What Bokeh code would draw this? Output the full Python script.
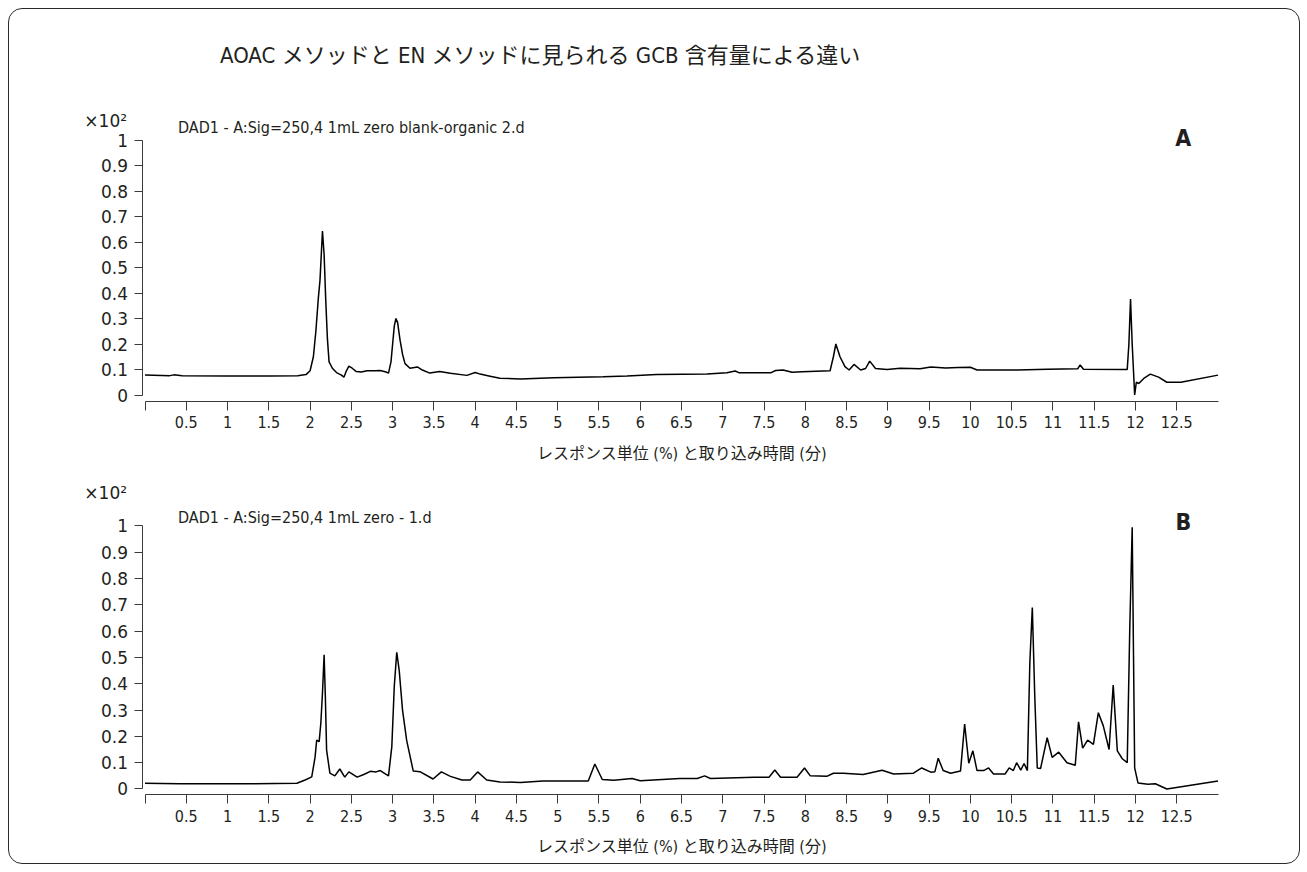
from bokeh.plotting import figure
from bokeh.layouts import column
from bokeh.models import Label, FixedTicker, Range1d, LinearAxis
from bokeh.embed import file_html
from bokeh.resources import INLINE

# ---------------- data ----------------
title_text = "AOAC メソッドと EN メソッドに見られる GCB 含有量による違い"
x_axis_title = "レスポンス単位 (%) と取り込み時間 (分)"
label_a = "DAD1 - A:Sig=250,4 1mL zero blank-organic 2.d"
label_b = "DAD1 - A:Sig=250,4 1mL zero - 1.d"
panel_tags = ["A", "B"]
y_scale_text = "×10²"

x_ticks = [0, 0.5, 1, 1.5, 2, 2.5, 3, 3.5, 4, 4.5, 5, 5.5, 6, 6.5, 7, 7.5, 8,
           8.5, 9, 9.5, 10, 10.5, 11, 11.5, 12, 12.5]
x_tick_labels = ["", "0.5", "1", "1.5", "2", "2.5", "3", "3.5", "4", "4.5", "5",
                 "5.5", "6", "6.5", "7", "7.5", "8", "8.5", "9", "9.5", "10",
                 "10.5", "11", "11.5", "12", "12.5"]
y_ticks = [0, 0.1, 0.2, 0.3, 0.4, 0.5, 0.6, 0.7, 0.8, 0.9, 1]
y_tick_labels = ["0", "0.1", "0.2", "0.3", "0.4", "0.5", "0.6", "0.7", "0.8", "0.9", "1"]

# Panel A chromatogram (time min, response x10^2)
time_a = [0.00, 0.30, 0.35, 0.45, 1.00, 1.50, 1.85, 1.95, 2.00, 2.04, 2.07, 2.10,
          2.12, 2.15, 2.17, 2.19, 2.21, 2.23, 2.27, 2.32, 2.38, 2.41, 2.44, 2.47,
          2.51, 2.56, 2.62, 2.69, 2.78, 2.85, 2.92, 2.95, 2.98, 3.00, 3.02, 3.04,
          3.06, 3.09, 3.12, 3.15, 3.21, 3.30, 3.36, 3.45, 3.57, 3.70, 3.90, 4.00,
          4.06, 4.18, 4.30, 4.55, 4.95, 5.55, 5.84, 6.20, 6.81, 7.05, 7.15, 7.20,
          7.58, 7.64, 7.73, 7.84, 7.96, 8.30, 8.34, 8.37, 8.42, 8.48, 8.53, 8.59,
          8.67, 8.73, 8.78, 8.85, 8.99, 9.15, 9.39, 9.52, 9.70, 9.85, 10.00, 10.08,
          10.57, 10.93, 11.30, 11.33, 11.37, 11.90, 11.92, 11.94, 11.96, 11.99,
          12.01, 12.04, 12.10, 12.18, 12.28, 12.38, 12.55, 13.00]
resp_a = [0.078, 0.076, 0.079, 0.076, 0.075, 0.075, 0.076, 0.080, 0.095, 0.150, 0.250, 0.380,
          0.450, 0.643, 0.550, 0.370, 0.220, 0.130, 0.105, 0.088, 0.078, 0.070, 0.095, 0.113,
          0.105, 0.092, 0.090, 0.095, 0.095, 0.096, 0.090, 0.086, 0.130, 0.200, 0.270, 0.300,
          0.285, 0.215, 0.160, 0.123, 0.105, 0.110, 0.098, 0.086, 0.092, 0.085, 0.077, 0.088,
          0.082, 0.074, 0.066, 0.063, 0.068, 0.072, 0.075, 0.080, 0.082, 0.087, 0.094, 0.087,
          0.087, 0.096, 0.098, 0.089, 0.091, 0.095, 0.150, 0.200, 0.150, 0.111, 0.098, 0.120,
          0.098, 0.104, 0.133, 0.104, 0.100, 0.105, 0.103, 0.110, 0.106, 0.108, 0.109, 0.098,
          0.098, 0.101, 0.103, 0.118, 0.101, 0.100, 0.200, 0.376, 0.200, 0.000,
          0.050, 0.045, 0.065, 0.082, 0.070, 0.050, 0.050, 0.078]

# Panel B chromatogram
time_b = [0.00, 0.42, 1.31, 1.84, 1.94, 2.02, 2.06, 2.08, 2.11, 2.13, 2.15, 2.17,
          2.185, 2.20, 2.24, 2.30, 2.36, 2.42, 2.47, 2.57, 2.65, 2.73, 2.80, 2.85,
          2.95, 2.99, 3.02, 3.05, 3.08, 3.12, 3.17, 3.25, 3.33, 3.49, 3.59, 3.70,
          3.84, 3.94, 4.03, 4.14, 4.30, 4.55, 4.82, 5.11, 5.37, 5.45, 5.54, 5.68,
          5.90, 6.00, 6.48, 6.69, 6.78, 6.85, 7.38, 7.56, 7.63, 7.70, 7.90, 7.99,
          8.06, 8.26, 8.34, 8.46, 8.70, 8.93, 9.07, 9.31, 9.41, 9.52, 9.57, 9.61,
          9.67, 9.76, 9.88, 9.93, 9.98, 10.03, 10.08, 10.16, 10.22, 10.28, 10.42,
          10.47, 10.52, 10.56, 10.61, 10.65, 10.69, 10.72, 10.75, 10.78, 10.81,
          10.85, 10.93, 10.99, 11.07, 11.17, 11.27, 11.31, 11.36, 11.42, 11.49,
          11.55, 11.61, 11.68, 11.73, 11.78, 11.84, 11.90, 11.93, 11.96, 11.99,
          12.03, 12.15, 12.24, 12.38, 13.00]
resp_b = [0.022, 0.020, 0.020, 0.022, 0.034, 0.046, 0.120, 0.186, 0.180, 0.250, 0.365, 0.510,
          0.350, 0.148, 0.060, 0.050, 0.076, 0.045, 0.065, 0.045, 0.055, 0.067, 0.065, 0.070,
          0.050, 0.160, 0.390, 0.520, 0.450, 0.300, 0.185, 0.068, 0.066, 0.038, 0.065, 0.048,
          0.034, 0.034, 0.065, 0.034, 0.027, 0.025, 0.030, 0.030, 0.030, 0.095, 0.036, 0.033,
          0.040, 0.031, 0.040, 0.040, 0.050, 0.040, 0.045, 0.045, 0.072, 0.045, 0.045, 0.080,
          0.050, 0.048, 0.060, 0.060, 0.055, 0.071, 0.057, 0.060, 0.080, 0.064, 0.066, 0.117,
          0.070, 0.060, 0.068, 0.247, 0.098, 0.145, 0.070, 0.070, 0.080, 0.057, 0.057,
          0.080, 0.070, 0.100, 0.072, 0.097, 0.070, 0.480, 0.690, 0.350, 0.080,
          0.078, 0.195, 0.120, 0.140, 0.100, 0.090, 0.255, 0.155, 0.186, 0.170,
          0.290, 0.240, 0.150, 0.395, 0.145, 0.115, 0.100, 0.600, 0.995, 0.080,
          0.023, 0.018, 0.020, 0.000, 0.030]

# ---------------- styling ----------------
LATIN = "'Liberation Sans Narrow', 'DejaVu Sans Condensed', 'Roboto', sans-serif"
WIDE = "'DejaVu Sans', 'Roboto', sans-serif"
MIXED = "'Liberation Sans Narrow', 'DejaVu Sans Condensed', 'Roboto', 'Noto Sans CJK JP', sans-serif"
INK = "#231f20"
AX = "#3a3a3a"

x_over = {t: s for t, s in zip(x_ticks, x_tick_labels)}
y_over = {t: s for t, s in zip(y_ticks, y_tick_labels)}

X0, X1 = -1.6417, 13.987      # full canvas width mapped to time
Y_AXIS_X = -0.036             # y-axis sits just left of t = 0


def make_panel(t, v, height, y_lo, y_hi, x_axis_y, dad_text, tag, tag_y, scale_y, dad_y):
    p = figure(width=1290, height=height, output_backend="svg", toolbar_location=None,
               x_range=Range1d(X0, X1), y_range=Range1d(y_lo, y_hi),
               x_axis_location=None, y_axis_location=None,
               min_border_left=0, min_border_right=0, min_border_top=0, min_border_bottom=0)
    p.background_fill_alpha = 0
    p.border_fill_alpha = 0
    p.outline_line_color = None
    p.xgrid.visible = False
    p.ygrid.visible = False
    p.line(t, v, line_color="black", line_width=1.5)

    xa = LinearAxis(fixed_location=x_axis_y)
    xa.ticker = FixedTicker(ticks=x_ticks, minor_ticks=[])
    xa.major_label_overrides = x_over
    xa.bounds = (0, 13)
    xa.axis_line_color = AX
    xa.major_tick_line_color = AX
    xa.major_tick_out = 9
    xa.major_tick_in = 0
    xa.minor_tick_line_color = None
    xa.major_label_text_font = LATIN
    xa.major_label_text_font_size = "16px"
    xa.major_label_text_color = INK
    xa.major_label_standoff = 6
    xa.axis_label = x_axis_title
    xa.axis_label_text_font = MIXED
    xa.axis_label_text_font_size = "16px"
    xa.axis_label_text_font_style = "normal"
    xa.axis_label_text_color = INK
    xa.axis_label_standoff = 12
    p.add_layout(xa, "below")

    ya = LinearAxis(fixed_location=Y_AXIS_X)
    ya.ticker = FixedTicker(ticks=y_ticks, minor_ticks=[])
    ya.major_label_overrides = y_over
    ya.bounds = (0, 1)
    ya.axis_line_color = AX
    ya.major_tick_line_color = AX
    ya.major_tick_out = 8
    ya.major_tick_in = 0
    ya.minor_tick_line_color = None
    ya.major_label_text_font = WIDE
    ya.major_label_text_font_size = "17px"
    ya.major_label_text_color = INK
    ya.major_label_standoff = 6
    p.add_layout(ya, "left")

    p.add_layout(Label(x=-0.218, y=scale_y, text=y_scale_text, text_align="right",
                       text_baseline="middle", text_font=WIDE, text_font_size="17px",
                       text_color=INK))
    p.add_layout(Label(x=0.40, y=dad_y, text=dad_text, text_align="left",
                       text_baseline="middle", text_font=LATIN, text_font_size="16px",
                       text_color=INK))
    p.add_layout(Label(x=12.58, y=tag_y, text=tag, text_align="center",
                       text_baseline="middle", text_font=LATIN, text_font_size="23px",
                       text_font_style="bold", text_color=INK))
    return p


pa = make_panel(time_a, resp_a, 455, -0.2725, 1.5118, -0.0235, label_a, panel_tags[0],
                1.008, 1.075, 1.051)
pa.add_layout(Label(x=0.909, y=1.33, text=title_text, text_align="left",
                    text_baseline="middle", text_font=MIXED, text_font_size="22px",
                    text_color=INK))

pb = make_panel(time_b, resp_b, 399, -0.2833, 1.2338, -0.0228, label_b, panel_tags[1],
                1.015, 1.125, 1.034)

layout = column(pa, pb, margin=(8, 8, 8, 8),
                styles={"border": "1.5px solid #2b2b2b", "border-radius": "14px",
                        "overflow": "hidden", "background": "white"})

open("out.html", "w").write(file_html(layout, INLINE))
